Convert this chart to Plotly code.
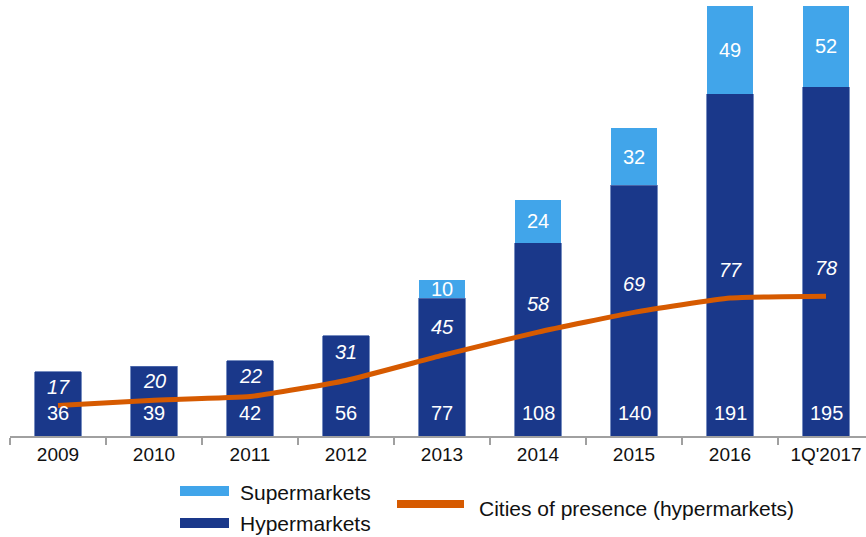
import plotly.graph_objects as go

# Store counts by period
periods = ["2009", "2010", "2011", "2012", "2013", "2014", "2015", "2016", "1Q'2017"]
hypermarkets = [36, 39, 42, 56, 77, 108, 140, 191, 195]
supermarkets = [0, 0, 0, 0, 10, 24, 32, 49, 52]
cities = [17, 20, 22, 31, 45, 58, 69, 77, 78]

DARK = "#1A388A"
LIGHT = "#41A5EA"
ORANGE = "#D65A00"
FONT = "Liberation Sans, Arial, sans-serif"

W, H = 866, 537
M_L, M_R, M_T, M_B = 10, 0, 6, 101
Y_MAX = 240
plot_w = W - M_L - M_R
plot_h = H - M_T - M_B
px_per_unit = plot_h / Y_MAX


def px_x(px):
    return (px - M_L) / plot_w


def px_y(py):
    return (H - M_B - py) / plot_h


fig = go.Figure()

fig.add_trace(go.Bar(
    x=periods, y=hypermarkets, name="Hypermarkets",
    marker=dict(color=DARK, line=dict(color="#5570B0", width=0.8)),
    width=0.48, showlegend=False, hoverinfo="skip",
))
fig.add_trace(go.Bar(
    x=periods, y=supermarkets, name="Supermarkets",
    marker=dict(color=LIGHT, line=dict(width=0)),
    width=0.48, showlegend=False, hoverinfo="skip",
))
fig.add_trace(go.Scatter(
    x=periods, y=cities, name="Cities of presence (hypermarkets)",
    mode="lines", line=dict(color=ORANGE, width=5, shape="spline", smoothing=0.4),
    showlegend=False, hoverinfo="skip",
))

annotations = []
label_font = dict(family=FONT, size=20, color="white")
for i, (h, s, c) in enumerate(zip(hypermarkets, supermarkets, cities)):
    # hypermarket count near the bar foot
    annotations.append(dict(
        x=i, y=0, yshift=23, text=str(h), showarrow=False,
        font=label_font, yanchor="middle",
    ))
    # supermarket count centred in the visible part of the upper segment
    if s > 0:
        mid = min(h + s / 2, (h + Y_MAX) / 2)
        annotations.append(dict(
            x=i, y=mid, text=str(s), showarrow=False,
            font=label_font, yanchor="middle",
        ))
    # cities count in italics above the line, kept inside the bar
    lab_y = min(c + 28 / px_per_unit, h - 15 / px_per_unit)
    annotations.append(dict(
        x=i, y=lab_y, text=f"<i>{c}</i>", showarrow=False,
        font=label_font, yanchor="middle",
    ))

# legend: swatches and labels
shapes = []
legend_items = [
    ("Supermarkets", LIGHT, 180, 229, 486, 496, 238, 492),
    ("Hypermarkets", DARK, 180, 229, 518, 528, 238, 523),
    ("Cities of presence (hypermarkets)", ORANGE, 397, 464, 500, 508, 477, 508),
]
for label, col, x0, x1, y0, y1, tx, ty in legend_items:
    shapes.append(dict(
        type="rect", xref="paper", yref="paper",
        x0=px_x(x0), x1=px_x(x1), y0=px_y(y1), y1=px_y(y0),
        fillcolor=col, line=dict(width=0),
    ))
    annotations.append(dict(
        xref="paper", yref="paper", x=px_x(tx), y=px_y(ty),
        xanchor="left", yanchor="middle", text=label, showarrow=False,
        font=dict(family=FONT, size=21, color="#111111"),
    ))

n = len(periods)
fig.update_layout(
    width=W, height=H,
    margin=dict(l=M_L, r=M_R, t=M_T, b=M_B, pad=0),
    barmode="stack",
    plot_bgcolor="white", paper_bgcolor="white",
    annotations=annotations, shapes=shapes,
    xaxis=dict(
        type="category", categoryorder="array", categoryarray=periods,
        range=[-0.5, n - 0.5833],
        showline=True, linecolor="#A0A0A0", linewidth=1.5,
        ticks="outside", tickson="boundaries", ticklen=7, tickcolor="#A0A0A0",
        tickwidth=1.5, showgrid=False, zeroline=False,
        tickfont=dict(family=FONT, size=19, color="#111111"),
    ),
    yaxis=dict(range=[0, Y_MAX], visible=False, showgrid=False, zeroline=False),
)

fig.write_html("out.html")
